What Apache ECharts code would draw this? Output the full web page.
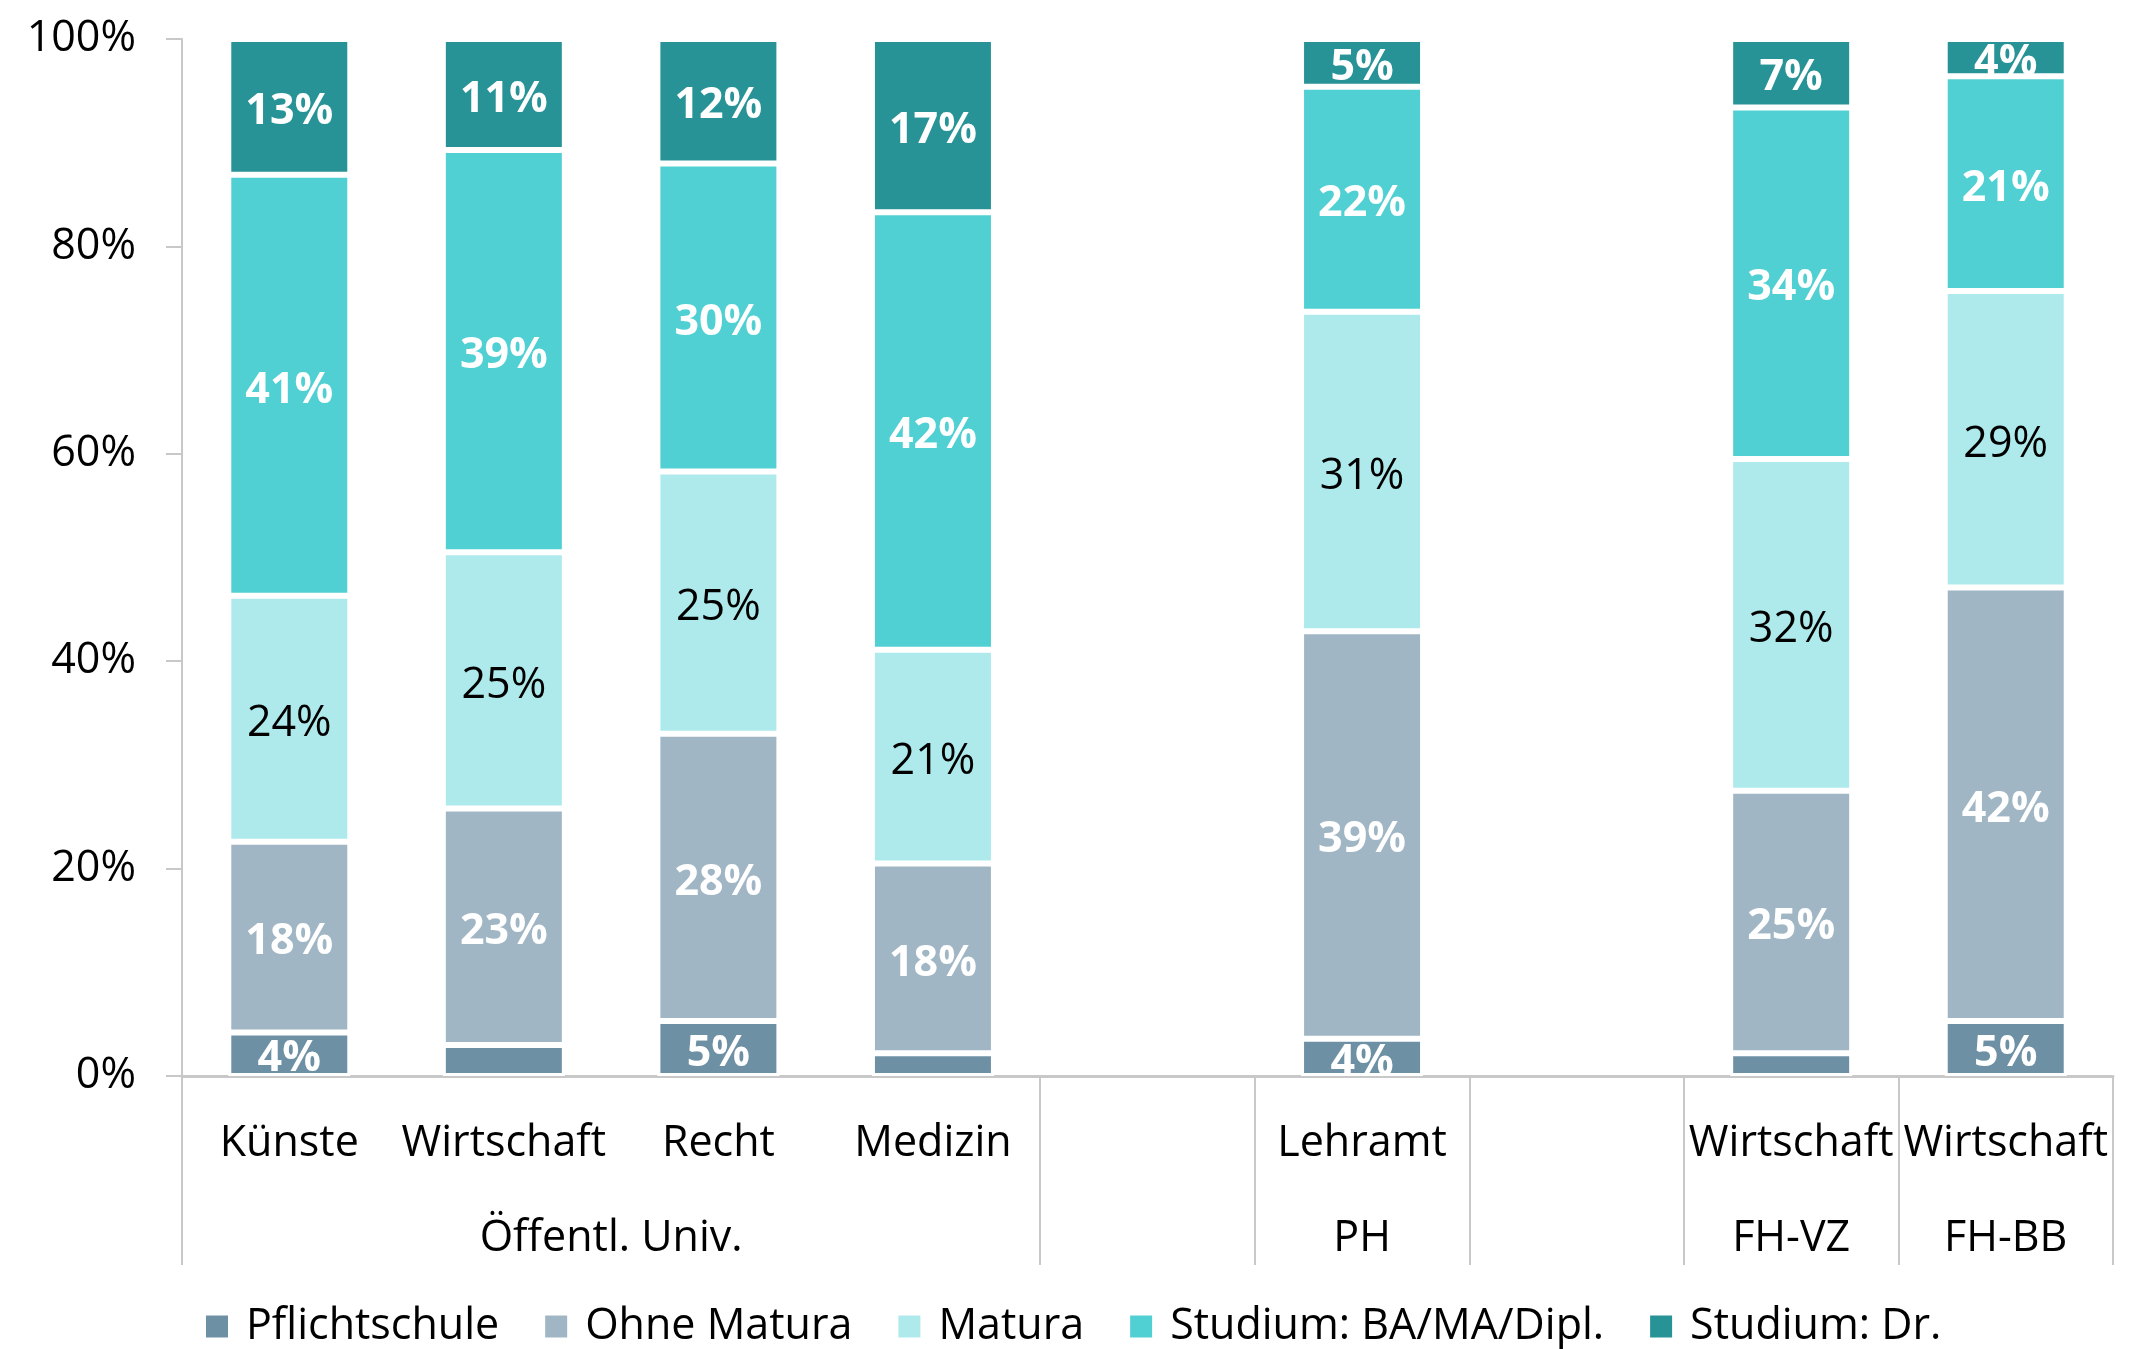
<!DOCTYPE html>
<html>
<head>
<meta charset="utf-8">
<script src="https://cdn.jsdelivr.net/npm/echarts@6/dist/echarts.min.js"></script>
<style>
  html, body { margin: 0; padding: 0; background: #fff; }
  #chart { width: 2137px; height: 1349px; }
</style>
</head>
<body>
<div id="chart"></div>
<script>
// Kategorien (leere Plätze trennen die Hochschultypen)
var categories = ['Künste', 'Wirtschaft', 'Recht', 'Medizin', '', 'Lehramt', '', 'Wirtschaft', 'Wirtschaft'];
// Gruppen: Name + Bereich in Kategorie-Indizes [von, bis)
var groupNames = ['Öffentl. Univ.', 'PH', 'FH-VZ', 'FH-BB'];
var groupSpans = [[0, 4], [5, 6], [7, 8], [8, 9]];

var seriesNames = ['Pflichtschule', 'Ohne Matura', 'Matura', 'Studium: BA/MA/Dipl.', 'Studium: Dr.'];
var pflichtschule = [4.2, 3.0, 5.3, 2.2, null, 3.6, null, 2.2, 5.3];
var ohneMatura    = [18.4, 22.8, 27.7, 18.3, null, 39.3, null, 25.3, 41.8];
var matura        = [23.7, 24.7, 25.3, 20.6, null, 30.8, null, 32.0, 28.6];
var studiumBA     = [40.6, 38.8, 29.7, 42.2, null, 21.7, null, 33.9, 20.7];
var studiumDr     = [13.1, 10.7, 12.0, 16.7, null, 4.6, null, 6.6, 3.6];

var yTicks = [0, 20, 40, 60, 80, 100];

var colors = ['#6e90a4', '#a1b6c4', '#aeeaec', '#50d0d3', '#289396'];
var FONT = "'Open Sans', 'Noto Sans', sans-serif";

var myChart = echarts.init(document.getElementById('chart'));

// Gruppenmitten und Trennlinien aus den Bereichen
var groupCenters = groupSpans.map(function (s) { return (s[0] + s[1]) / 2; });
var bounds = [];
groupSpans.forEach(function (s) {
  if (bounds.indexOf(s[0]) < 0) bounds.push(s[0]);
  if (bounds.indexOf(s[1]) < 0) bounds.push(s[1]);
});
bounds.sort(function (a, b) { return a - b; });

function makeSeries(name, data, i) {
  var dark = i !== 2;
  return {
    name: name,
    type: 'bar',
    stack: 'total',
    xAxisIndex: 0,
    barWidth: 122,
    data: data,
    itemStyle: { color: colors[i], borderColor: '#fff', borderWidth: 3 },
    label: {
      show: true,
      position: 'inside',
      offset: [0, 5],
      fontFamily: FONT,
      fontSize: 43,
      fontWeight: dark ? 'bold' : 'normal',
      color: dark ? '#fff' : '#000',
      formatter: function (p) {
        if (p.value == null || p.value < 3.5) return '';
        return Math.round(p.value) + '%';
      }
    },
    emphasis: { disabled: true }
  };
}

var allData = [pflichtschule, ohneMatura, matura, studiumBA, studiumDr];

var option = {
  animation: false,
  backgroundColor: '#fff',
  textStyle: { fontFamily: FONT },
  grid: { left: 182, right: 24, top: 39, bottom: 273, containLabel: false },
  legend: {
    top: 1300,
    left: 199,
    icon: 'rect',
    itemWidth: 24,
    itemHeight: 24,
    itemGap: 44,
    textStyle: { fontFamily: FONT, fontSize: 43, color: '#000', padding: [0, 0, 0, 12] },
    data: seriesNames
  },
  xAxis: [
    {
      type: 'category',
      data: categories,
      axisLine: { show: true, lineStyle: { color: '#c8c8c8', width: 3 } },
      axisTick: { show: false },
      axisLabel: { interval: 0, margin: 46, fontFamily: FONT, fontSize: 43, color: '#000' }
    },
    {
      type: 'value',
      position: 'bottom',
      min: 0,
      max: categories.length,
      splitLine: { show: false },
      axisLine: { show: false },
      axisTick: {
        show: true,
        length: 189,
        customValues: bounds,
        lineStyle: { color: '#c8c8c8', width: 2 }
      },
      axisLabel: {
        customValues: groupCenters,
        margin: 141,
        fontFamily: FONT,
        fontSize: 43,
        color: '#000',
        formatter: function (v) {
          var idx = groupCenters.indexOf(v);
          return idx >= 0 ? groupNames[idx] : '';
        }
      }
    }
  ],
  yAxis: {
    type: 'value',
    min: 0,
    max: 100,
    interval: 20,
    splitLine: { show: false },
    axisLine: { show: true, lineStyle: { color: '#c8c8c8', width: 2 } },
    axisTick: { show: true, length: 16, lineStyle: { color: '#c8c8c8', width: 2 } },
    axisLabel: {
      margin: 46,
      padding: [5, 0, 0, 0],
      fontFamily: FONT,
      fontSize: 43,
      color: '#000',
      formatter: function (v) { return yTicks.indexOf(v) >= 0 ? v + '%' : ''; }
    }
  },
  series: seriesNames.map(function (n, i) { return makeSeries(n, allData[i], i); })
};

myChart.setOption(option);
</script>
</body>
</html>
